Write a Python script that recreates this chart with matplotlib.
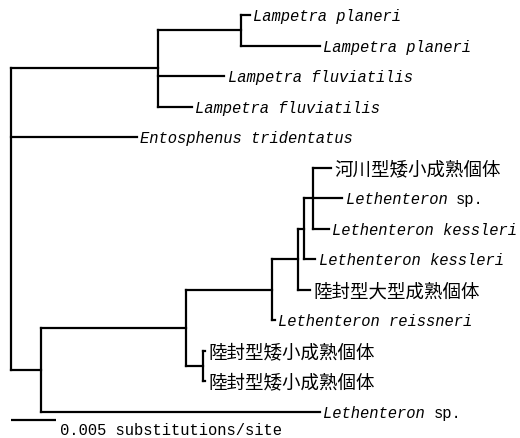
import matplotlib
matplotlib.use("Agg")
import matplotlib.pyplot as plt

# ---------------- data ----------------
leaf_labels = ["Lampetra planeri", "Lampetra planeri", "Lampetra fluviatilis",
               "Lampetra fluviatilis", "Entosphenus tridentatus", "河川型矮小成熟個体",
               "Lethenteron sp.", "Lethenteron kessleri", "Lethenteron kessleri",
               "陸封型大型成熟個体", "Lethenteron reissneri", "陸封型矮小成熟個体",
               "陸封型矮小成熟個体", "Lethenteron sp."]
leaf_parents = ["Pla", "Pla", "Lam", "Lam", "root", "A", "A", "A", "B", "C", "D",
                "G", "G", "Let"]
leaf_lengths = [0.0010, 0.0088, 0.0074, 0.0038, 0.0140, 0.0019, 0.0032, 0.0017,
                0.0013, 0.0013, 0.0003, 0.0002, 0.0002, 0.0310]

node_ids = ["root", "Lam", "Pla", "Let", "F", "D", "C", "B", "A", "G"]
node_parents = [None, "root", "Lam", "root", "Let", "F", "D", "C", "B", "F"]
node_lengths = [0.0, 0.0163, 0.0092, 0.0033, 0.0161, 0.0096, 0.0029, 0.0006,
                0.0011, 0.0019]

scale_value = 0.005
scale_label = "0.005 substitutions/site"

# ---------------- layout ----------------
W, H, DPI = 520, 439, 100
fig = plt.figure(figsize=(W / DPI, H / DPI), dpi=DPI)
ax = fig.add_axes([0, 0, 1, 1])
ax.set_axis_off()

px_per_unit = 9000.0
root_px = 11
row0_px, row_px = 16, 30.5
ax.set_xlim(-root_px / px_per_unit, (W - root_px) / px_per_unit)
ax.set_ylim((H - row0_px) / row_px, -row0_px / row_px)

# depths
parent_of = dict(zip(node_ids, node_parents))
blen_of = dict(zip(node_ids, node_lengths))
depth = {}


def get_depth(n):
    if n in depth:
        return depth[n]
    p = parent_of[n]
    d = blen_of[n] + (get_depth(p) if p is not None else 0.0)
    depth[n] = d
    return d


for n in node_ids:
    get_depth(n)

children = {n: [] for n in node_ids}
for i, p in enumerate(leaf_parents):
    children[p].append(("leaf", i))
for n, p in zip(node_ids, node_parents):
    if p is not None:
        children[p].append(("node", n))

ypos = {}


def get_y(kind, key):
    if kind == "leaf":
        return float(key)
    if key in ypos:
        return ypos[key]
    ys = [get_y(k, c) for k, c in children[key]]
    ypos[key] = (min(ys) + max(ys)) / 2
    return ypos[key]


lw = 1.6
kw = dict(color="black", lw=lw, solid_capstyle="projecting")
leaf_x = []
for n in node_ids:
    x0 = depth[n]
    ys = []
    for kind, c in children[n]:
        y = get_y(kind, c)
        ys.append(y)
        if kind == "leaf":
            x1 = x0 + leaf_lengths[c]
            leaf_x.append((c, x1))
        else:
            x1 = depth[c]
        ax.plot([x0, x1], [y, y], **kw)
    ax.plot([x0, x0], [min(ys), max(ys)], **kw)

latin = "Liberation Mono"
cjk = "Noto Sans CJK JP"
fs_lat, fs_cjk = 11.2, 13.3
dy_lat = -3.9   # points: baseline below branch line
dy_cjk = -4.8

for i, x1 in leaf_x:
    lab = leaf_labels[i]
    if any(ord(ch) > 0x2E80 for ch in lab):
        ax.annotate(lab, xy=(x1, i), xytext=(2.5, dy_cjk), textcoords="offset points",
                    fontsize=fs_cjk, family=[cjk, "DejaVu Sans"], va="baseline", ha="left")
    elif lab.endswith(" sp."):
        t = ax.annotate(lab[:-4], xy=(x1, i), xytext=(2.5, dy_lat), textcoords="offset points",
                        fontsize=fs_lat, family=latin, style="italic", va="baseline", ha="left")
        ax.annotate("sp.", xy=(1, 0), xycoords=t, xytext=(6.0, 0),
                    textcoords="offset points", fontsize=fs_lat, family=latin,
                    va="bottom", ha="left")
    else:
        ax.annotate(lab, xy=(x1, i), xytext=(2.5, dy_lat), textcoords="offset points",
                    fontsize=fs_lat, family=latin, style="italic", va="baseline", ha="left")

# scale bar
sb_y = (421 - row0_px) / row_px
ax.plot([0, scale_value], [sb_y, sb_y], color="black", lw=lw, solid_capstyle="butt")
ax.annotate(scale_label, xy=(scale_value, sb_y), xytext=(3, -10.0),
            textcoords="offset points", fontsize=fs_lat, family=latin,
            va="baseline", ha="left")

fig.savefig("out.png", dpi=DPI)
